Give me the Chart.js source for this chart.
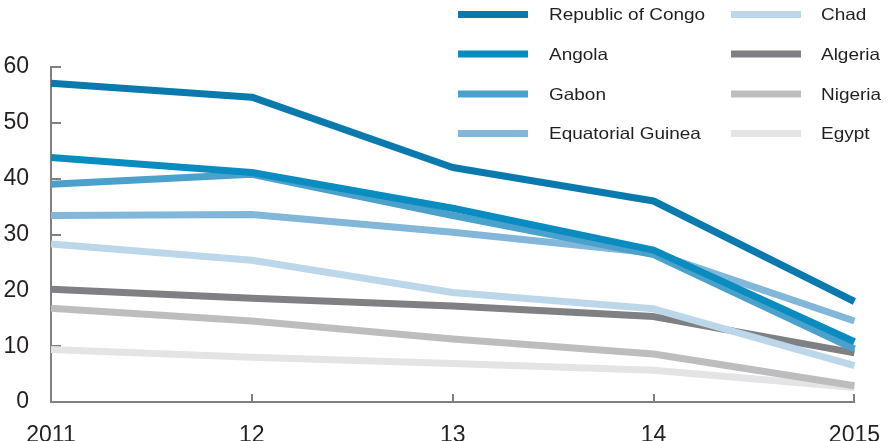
<!DOCTYPE html>
<html>
<head>
<meta charset="utf-8">
<script src="https://cdn.jsdelivr.net/npm/chart.js@4/dist/chart.umd.min.js"></script>
<style>
  html, body { margin: 0; padding: 0; background: #fff; }
  #wrap { width: 892px; height: 441px; }
</style>
</head>
<body>
<div id="wrap"><canvas id="chart" width="892" height="441"></canvas></div>
<script>
// years along the bottom axis
const years = ["2011", "12", "13", "14", "2015"];

// series, one array per country
const congo    = [57.1, 54.6, 42.0, 36.0, 18.0];
const angola   = [43.8, 41.1, 34.7, 27.2, 10.8];
const gabon    = [39.0, 40.8, 33.4, 26.4, 9.5];
const eqGuinea = [33.4, 33.6, 30.4, 26.7, 14.5];
const chad     = [28.3, 25.4, 19.6, 16.7, 6.5];
const algeria  = [20.2, 18.6, 17.2, 15.3, 8.8];
const nigeria  = [16.8, 14.5, 11.3, 8.6, 2.9];
const egypt    = [9.4, 8.0, 6.9, 5.7, 2.6];

const names = ["Republic of Congo", "Angola", "Gabon", "Equatorial Guinea",
               "Chad", "Algeria", "Nigeria", "Egypt"];
const series = [congo, angola, gabon, eqGuinea, chad, algeria, nigeria, egypt];
const colors = ["#0a79ad", "#0a8cc0", "#4aa2cc", "#82b7da",
                "#bdd7ea", "#7f8083", "#bdbdbf", "#e3e4e5"];

const yMin = 0, yMax = 60, yStep = 10;

const AXIS = "#808080";
const TEXT = "#231f20";

// small tick marks pointing into the plot, drawn under the lines
const innerTicks = {
  id: "innerTicks",
  beforeDatasetsDraw(chart) {
    const { ctx, scales: { x, y } } = chart;
    ctx.save();
    ctx.strokeStyle = AXIS;
    ctx.lineWidth = 2;
    ctx.beginPath();
    y.ticks.forEach(t => {
      if (t.value === yMin) return;
      const py = Math.round(y.getPixelForValue(t.value));
      ctx.moveTo(x.left, py);
      ctx.lineTo(x.left + 10, py);
    });
    years.forEach((_, i) => {
      if (i === 0) return;
      const px = Math.round(x.getPixelForValue(i));
      ctx.moveTo(px, y.bottom);
      ctx.lineTo(px, y.bottom - 8);
    });
    ctx.stroke();
    ctx.restore();
  }
};

// two-column legend, filled column by column
const columnLegend = {
  id: "columnLegend",
  afterDraw(chart) {
    const ctx = chart.ctx;
    const lineX = [458, 731];
    const textX = [549, 821];
    const rowY = [14.5, 54, 94, 133.5];
    ctx.save();
    chart.data.datasets.forEach((ds, i) => {
      const col = Math.floor(i / 4), row = i % 4;
      const cy = rowY[row];
      ctx.fillStyle = ds.borderColor;
      ctx.fillRect(lineX[col], cy - 3.5, 70, 7);
      ctx.save();
      ctx.translate(textX[col], cy);
      ctx.scale(1.15, 1);
      ctx.fillStyle = TEXT;
      ctx.font = "16.5px 'Liberation Sans', Arial, sans-serif";
      ctx.textBaseline = "middle";
      ctx.textAlign = "left";
      ctx.fillText(ds.label, 0, 1);
      ctx.restore();
    });
    ctx.restore();
  }
};

const datasets = names.map((n, i) => ({
  label: n,
  data: series[i],
  borderColor: colors[i],
  backgroundColor: colors[i],
  borderWidth: 7,
  borderCapStyle: "butt",
  borderJoinStyle: "round",
  pointRadius: 0,
  pointHoverRadius: 0,
  tension: 0,
  fill: false
}));

new Chart(document.getElementById("chart"), {
  type: "line",
  data: { labels: years, datasets },
  options: {
    responsive: false,
    animation: false,
    events: [],
    layout: { padding: { top: 67, right: 36, bottom: 0, left: 0 } },
    plugins: { legend: { display: false }, tooltip: { enabled: false } },
    scales: {
      x: {
        type: "category",
        offset: false,
        grid: { display: false },
        border: { display: true, color: AXIS, width: 2 },
        ticks: {
          color: TEXT,
          padding: 12,
          maxRotation: 0,
          autoSkip: false,
          font: { family: "'Liberation Sans', Arial, sans-serif", size: 23 }
        },
        afterFit(scale) { scale.height = 39; }
      },
      y: {
        min: yMin,
        max: yMax,
        grid: { display: false },
        border: { display: true, color: AXIS, width: 2 },
        ticks: {
          stepSize: yStep,
          color: TEXT,
          padding: 14,
          font: { family: "'Liberation Sans', Arial, sans-serif", size: 23 }
        },
        afterFit(scale) { scale.width = 51; }
      }
    }
  },
  plugins: [innerTicks, columnLegend]
});
</script>
</body>
</html>
